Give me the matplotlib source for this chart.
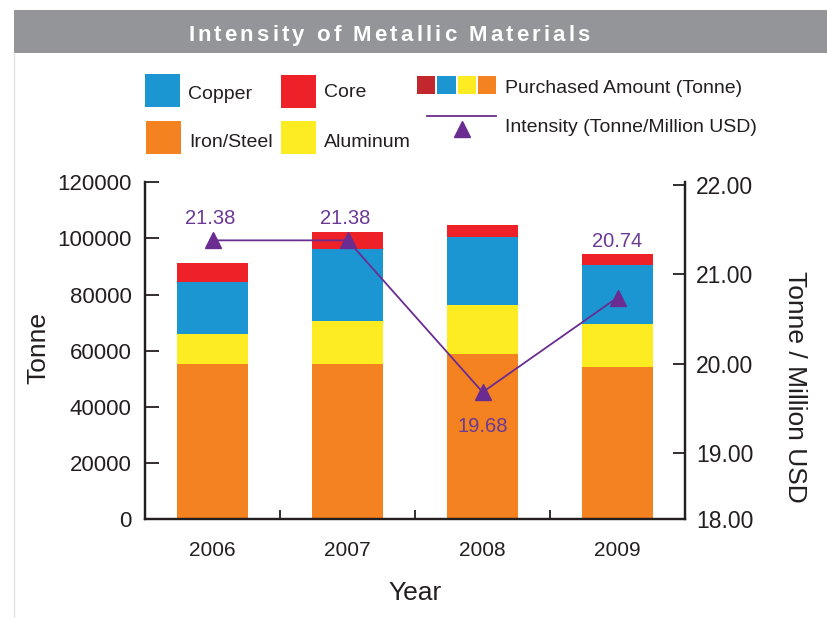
import matplotlib
matplotlib.use("Agg")
import matplotlib.pyplot as plt
from matplotlib.patches import Rectangle
from matplotlib.font_manager import FontProperties
from matplotlib.textpath import TextToPath

FONT = "Liberation Sans"
DPI = 100
FIG_W, FIG_H = 827, 618

ORANGE = "#f58220"
YELLOW = "#fdec21"
BLUE = "#1c96d2"
RED = "#ed2127"
DARK_RED = "#c1272d"
PURPLE = "#6a2c91"
LABEL_PURPLE = "#6b3996"
INK = "#231f20"
BAND = "#939598"

YEARS = ["2006", "2007", "2008", "2009"]
IRON_STEEL = [55200, 55200, 58800, 54200]
ALUMINUM = [10700, 15500, 17600, 15300]
COPPER = [18600, 25600, 24100, 21100]
CORE = [6700, 6000, 4300, 3800]
INTENSITY = [21.38, 21.38, 19.68, 20.74]
INTENSITY_LABELS = ["21.38", "21.38", "19.68", "20.74"]
LEFT_TICKS = [0, 20000, 40000, 60000, 80000, 100000, 120000]
RIGHT_TICK_LABELS = ["18.00", "19.00", "20.00", "21.00", "22.00"]

# label offsets (points) relative to each intensity marker
LABEL_OFFSETS = [(-2, 16), (-2, 16), (0, -25), (0, 40)]

plt.rcParams["font.family"] = FONT
plt.rcParams["text.color"] = INK


def _tracked_text(ax, x, y, s, tracking, size, **kw):
    """Draw text char by char so letters can be spaced apart."""
    prop = FontProperties(family=FONT, weight="bold", size=size)
    t2p = TextToPath()
    base = t2p.get_text_width_height_descent("xx", prop, ismath=False)[0]
    for ch in s:
        ax.text(x, y, ch, fontproperties=prop, ha="left", va="baseline", **kw)
        adv = t2p.get_text_width_height_descent("x" + ch + "x", prop, ismath=False)[0] - base
        x += adv * DPI / 72 + tracking


fig = plt.figure(figsize=(FIG_W / DPI, FIG_H / DPI), dpi=DPI)
fig.patch.set_facecolor("white")

ax = fig.add_axes([145.3 / FIG_W, 1 - 519 / FIG_H, (685 - 145.3) / FIG_W, (519 - 182.3) / FIG_H])
x = list(range(len(YEARS)))
width = 0.525
bottom = [0] * len(YEARS)
for values, color in [(IRON_STEEL, ORANGE), (ALUMINUM, YELLOW), (COPPER, BLUE), (CORE, RED)]:
    ax.bar(x, values, width, bottom=bottom, color=color, linewidth=0, zorder=2)
    bottom = [b + v for b, v in zip(bottom, values)]

ax.set_xlim(-0.5, len(YEARS) - 0.5)
ax.set_ylim(0, 120000)
ax.set_yticks(LEFT_TICKS)
ax.set_yticklabels([str(t) for t in LEFT_TICKS])
ax.tick_params(axis="y", direction="in", length=10, width=1.3, color=INK,
               labelsize=16, labelcolor=INK, pad=10)
ax.set_xticks(x)
ax.set_xticklabels(YEARS)
ax.set_xticks([0.5, 1.5, 2.5], minor=True)
ax.tick_params(axis="x", which="major", length=0, labelsize=15, labelcolor=INK, pad=16)
ax.tick_params(axis="x", which="minor", direction="in", length=6.5, width=1.3, color=INK)
for side in ["left", "bottom", "right"]:
    ax.spines[side].set_linewidth(1.6)
    ax.spines[side].set_color(INK)
ax.spines["top"].set_visible(False)

ax.set_xlabel("Year", fontsize=19, color=INK)
ax.xaxis.label.set_va("center")
ax.xaxis.set_label_coords(0.5, -0.22)
ax.set_ylabel("Tonne", fontsize=19, color=INK)
ax.yaxis.label.set_va("center")
ax.yaxis.set_label_coords(-0.198, 0.508)

ax2 = ax.twinx()
ax2.set_ylim(18.26, 22.03)
ax2.set_yticks([18.26, 19, 20, 21, 22])
ax2.set_yticklabels(RIGHT_TICK_LABELS)
ax2.tick_params(axis="y", direction="in", length=9, width=1.3, color=INK,
                labelsize=16.5, labelcolor=INK, pad=8)
for side in ["left", "bottom", "right"]:
    ax2.spines[side].set_linewidth(1.6)
    ax2.spines[side].set_color(INK)
ax2.spines["top"].set_visible(False)
ax2.plot(x, INTENSITY, color=PURPLE, linewidth=1.3, marker="^", markersize=11,
         markerfacecolor=PURPLE, markeredgecolor=PURPLE, zorder=3)
for xi, yi, label, off in zip(x, INTENSITY, INTENSITY_LABELS, LABEL_OFFSETS):
    ax2.annotate(label, (xi, yi), xytext=off, textcoords="offset points",
                 ha="center", va="center", fontsize=14.5, color=LABEL_PURPLE)
ax2.set_ylabel("Tonne / Million USD", fontsize=19, color=INK, rotation=270)
ax2.yaxis.label.set_va("center")
ax2.yaxis.set_label_coords(1.204, 0.392)

# overlay in pixel units for the title band and the legend
overlay = fig.add_axes([0, 0, 1, 1])
overlay.set_xlim(0, FIG_W)
overlay.set_ylim(FIG_H, 0)
overlay.axis("off")
overlay.patch.set_visible(False)

overlay.add_patch(Rectangle((14, 10), FIG_W - 14, 42.7, color=BAND, linewidth=0))
overlay.plot([14, 14], [52.7, FIG_H], color="#e4e4e4", linewidth=1)
_tracked_text(overlay, 188, 41, "Intensity of Metallic Materials", 3.1, 16, color="white")

swatches = [
    (145, 74, BLUE, "Copper", 99.3),
    (281, 75, RED, "Core", 96.7),
    (146, 121, ORANGE, "Iron/Steel", 146.7),
    (281, 121, YELLOW, "Aluminum", 146.7),
]
for sx, sy, color, label, baseline in swatches:
    overlay.add_patch(Rectangle((sx, sy), 35, 32.5, color=color, linewidth=0))
    overlay.text(sx + 43, baseline, label, fontsize=14, ha="left", va="baseline", color=INK)

for i, color in enumerate([DARK_RED, BLUE, YELLOW, ORANGE]):
    overlay.add_patch(Rectangle((417 + i * 20.3, 76), 18.3, 18, color=color, linewidth=0))
overlay.text(505, 93.3, "Purchased Amount (Tonne)", fontsize=14, ha="left", va="baseline", color=INK)
overlay.plot([427, 496], [115.7, 115.7], color=PURPLE, linewidth=1.3)
overlay.plot([461.5], [129], marker="^", markersize=11, color=PURPLE, linestyle="none")
overlay.text(505, 131.7, "Intensity (Tonne/Million USD)", fontsize=14, ha="left", va="baseline", color=INK)

fig.savefig("out.png", dpi=DPI, facecolor=fig.get_facecolor())
